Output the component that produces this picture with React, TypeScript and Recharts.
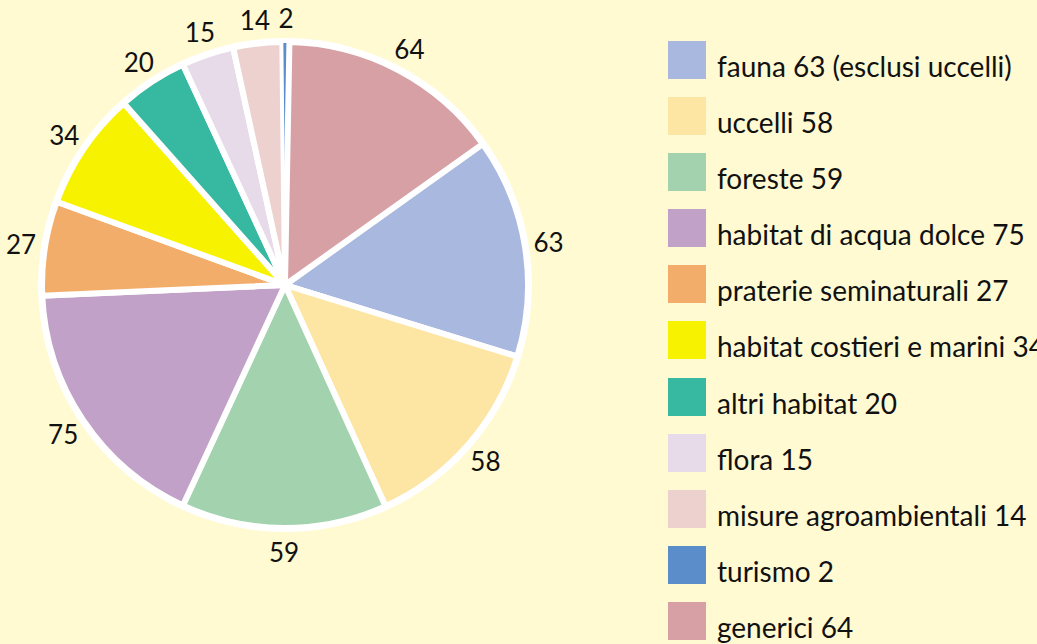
import { PieChart, Pie, Cell } from 'recharts';

const categories = [
  'fauna',
  'uccelli',
  'foreste',
  'habitat di acqua dolce',
  'praterie seminaturali',
  'habitat costieri e marini',
  'altri habitat',
  'flora',
  'misure agroambientali',
  'turismo',
  'generici',
];
const values = [63, 58, 59, 75, 27, 34, 20, 15, 14, 2, 64];
const legendLabels = [
  'fauna 63 (esclusi uccelli)',
  'uccelli 58',
  'foreste 59',
  'habitat di acqua dolce 75',
  'praterie seminaturali 27',
  'habitat costieri e marini 34',
  'altri habitat 20',
  'flora 15',
  'misure agroambientali 14',
  'turismo 2',
  'generici 64',
];
const colors = [
  '#a8b8de',
  '#fde5a3',
  '#a2d3ae',
  '#c2a1c8',
  '#f3ad6a',
  '#f7f300',
  '#37b8a0',
  '#e7dbe9',
  '#edd1cf',
  '#5b8dca',
  '#d6a0a4',
];

const data = categories.map((name, i) => ({ name, value: values[i] }));
const ring = [{ name: 'ring', value: 1 }];

const FONT = 'Lato, "Open Sans", sans-serif';
const RAD = Math.PI / 180;

const renderLabel = (props: any) => {
  const { cx, cy, midAngle, outerRadius, value } = props;
  const r = outerRadius + 24;
  const x = cx + r * Math.cos(-midAngle * RAD);
  const y = cy + r * Math.sin(-midAngle * RAD);
  return (
    <text
      x={x}
      y={y}
      textAnchor='middle'
      dominantBaseline='central'
      fill='#111'
      fontSize={26}
      fontFamily={FONT}
    >
      {value}
    </text>
  );
};

const ChartLegend = () => (
  <div
    style={{
      position: 'absolute',
      left: 668,
      top: 41,
      fontFamily: FONT,
      whiteSpace: 'nowrap',
    }}
  >
    {legendLabels.map((label, i) => (
      <div
        key={label}
        style={{ display: 'flex', alignItems: 'flex-start', height: 56.1 }}
      >
        <div
          style={{
            width: 38,
            height: 38,
            background: colors[i],
            flexShrink: 0,
          }}
        />
        <span
          style={{
            marginLeft: 11,
            marginTop: 6,
            fontSize: 28,
            lineHeight: '38px',
            color: '#111',
          }}
        >
          {label}
        </span>
      </div>
    ))}
  </div>
);

export default function App() {
  return (
    <div
      style={{
        position: 'fixed',
        left: 0,
        top: 0,
        width: 1037,
        height: 644,
        overflow: 'hidden',
        background: '#fffad2',
      }}
    >
      <PieChart width={640} height={644} margin={{ top: 0, right: 0, bottom: 0, left: 0 }}>
        <Pie
          data={ring}
          dataKey='value'
          cx={285}
          cy={285}
          outerRadius={247}
          fill='#ffffff'
          stroke='none'
          isAnimationActive={false}
        />
        <Pie
          data={data}
          dataKey='value'
          cx={285}
          cy={285}
          outerRadius={243}
          startAngle={395.5}
          endAngle={35.5}
          stroke='#ffffff'
          strokeWidth={6}
          label={renderLabel}
          labelLine={false}
          isAnimationActive={false}
        >
          {data.map((d, i) => (
            <Cell
              key={d.name}
              fill={colors[i]}
              strokeWidth={d.name === 'turismo' ? 2 : 6}
            />
          ))}
        </Pie>
      </PieChart>
      <ChartLegend />
    </div>
  );
}
